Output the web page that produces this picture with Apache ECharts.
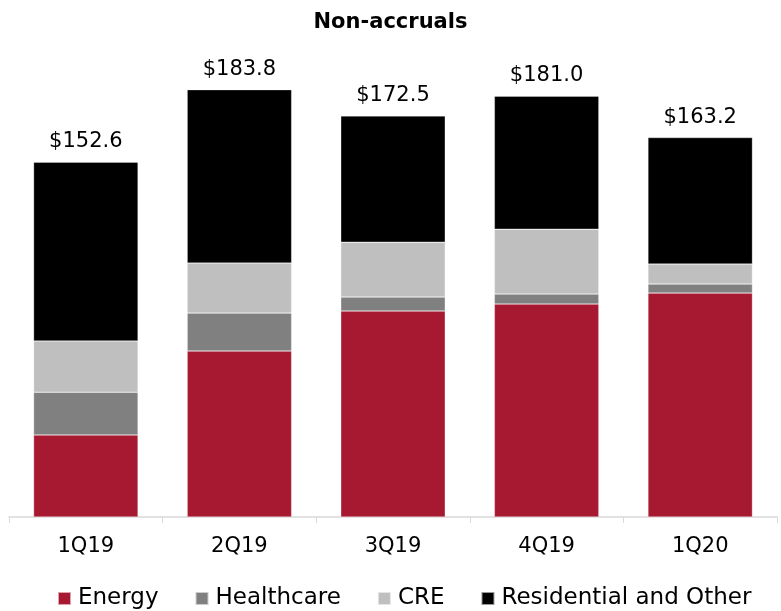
<!DOCTYPE html>
<html>
<head>
<meta charset="utf-8">
<script src="https://cdn.jsdelivr.net/npm/echarts@6/dist/echarts.min.js"></script>
<style>
  html, body { margin: 0; padding: 0; background: #fff; }
  #chart { width: 781px; height: 611px; }
</style>
</head>
<body>
<div id="chart"></div>
<script>
// 季度
var quarters = ['1Q19', '2Q19', '3Q19', '4Q19', '1Q20'];
// 各类别 (单位：百万美元)
var energy = [35.3, 71.4, 88.6, 91.6, 96.3];
var healthcare = [18.4, 16.3, 6.0, 4.3, 3.9];
var cre = [22.0, 21.5, 23.6, 27.9, 8.6];
var residential = [76.9, 74.6, 54.3, 57.2, 54.4];
var totals = ['152.6', '183.8', '172.5', '181.0', '163.2'];

var FONT = '"DejaVu Sans", Verdana, sans-serif';

function bar(name, data, color) {
  return {
    name: name,
    type: 'bar',
    stack: 'total',
    data: data,
    barWidth: '68%',
    itemStyle: { color: color, borderColor: 'rgba(255,255,255,0.6)', borderWidth: 0.5 }
  };
}

var series = [
  bar('Energy', energy, '#a71930'),
  bar('Healthcare', healthcare, '#808080'),
  bar('CRE', cre, '#bfbfbf'),
  bar('Residential and Other', residential, '#000000')
];
// 堆叠总数标签放在最上一层
series[3].label = {
  show: true,
  position: 'top',
  distance: 10,
  color: '#000',
  fontFamily: FONT,
  fontSize: 21,
  formatter: function (p) { return '$' + totals[p.dataIndex]; }
};

var myChart = echarts.init(document.getElementById('chart'));
myChart.setOption({
  animation: false,
  title: {
    text: 'Non-accruals',
    left: 'center',
    top: 7,
    textStyle: { fontFamily: FONT, fontSize: 21, fontWeight: 'bold', color: '#000' }
  },
  legend: {
    bottom: -4,
    left: 52,
    itemWidth: 13,
    itemHeight: 13,
    itemGap: 36,
    icon: 'rect',
    textStyle: { fontFamily: FONT, fontSize: 23, color: '#000', padding: [0, 0, 0, 2] },
    data: ['Energy', 'Healthcare', 'CRE', 'Residential and Other']
  },
  grid: { left: 9, right: 4, top: 52, bottom: 94, containLabel: false },
  xAxis: {
    type: 'category',
    data: quarters,
    axisLine: { lineStyle: { color: '#d9d9d9', width: 1.5 } },
    axisTick: { show: true, length: 6, lineStyle: { color: '#d9d9d9' } },
    axisLabel: { color: '#000', fontFamily: FONT, fontSize: 21, margin: 19 }
  },
  yAxis: {
    type: 'value',
    min: 0,
    max: 200,
    show: false,
    splitLine: { show: false }
  },
  series: series
});
</script>
</body>
</html>
